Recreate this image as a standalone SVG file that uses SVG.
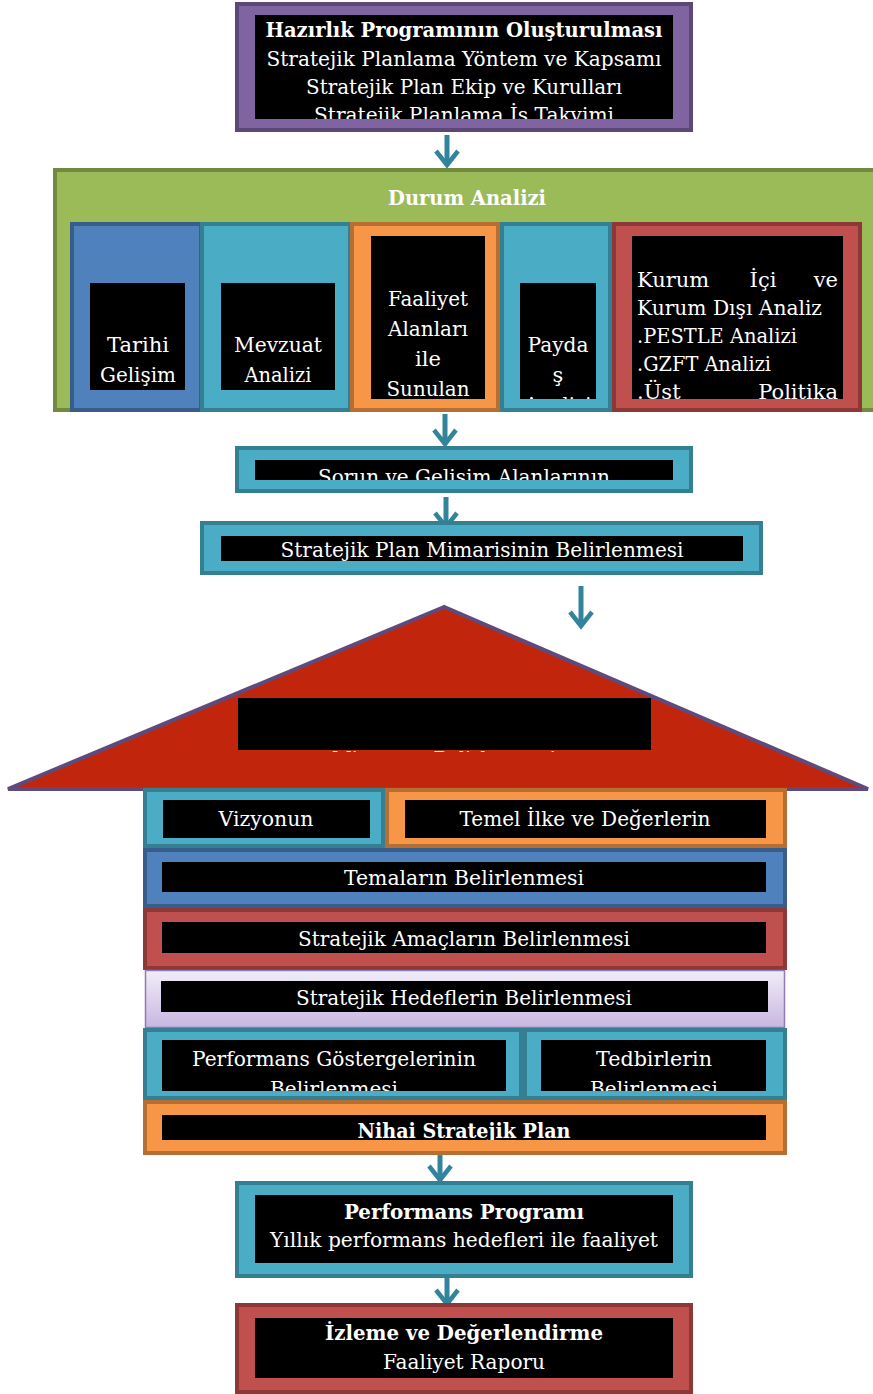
<svg xmlns="http://www.w3.org/2000/svg" width="873" height="1394" viewBox="0 0 873 1394">
<style>
.t{font-family:"DejaVu Serif","Liberation Serif",serif;font-size:21px;fill:#fff;text-anchor:middle}
.b{font-weight:bold}
.l{text-anchor:start}
.e{text-anchor:end}
.blk{fill:#000}
.purple{fill:#8064a2;stroke:#5d4776;stroke-width:4}
.green{fill:#9bbb59;stroke:#728a3f;stroke-width:4}
.blue{fill:#4f81bd;stroke:#385d8a;stroke-width:4}
.teal{fill:#4bacc6;stroke:#357f93;stroke-width:4}
.orange{fill:#f79646;stroke:#b76e33;stroke-width:4}
.red{fill:#c0504d;stroke:#8c3836;stroke-width:4}
.arr{fill:none;stroke:#31849b;stroke-width:5}
.head{fill:none;stroke:#31849b;stroke-width:4.5;stroke-linejoin:miter}
</style>
<defs>
<linearGradient id="lav" x1="0" y1="0" x2="0" y2="1">
<stop offset="0" stop-color="#f1edf8"/>
<stop offset="1" stop-color="#c8b7e1"/>
</linearGradient>
<clipPath id="cTop"><rect x="255" y="15" width="418" height="104"/></clipPath>
<clipPath id="cFaal"><rect x="371" y="236" width="114" height="163"/></clipPath>
<clipPath id="cPay"><rect x="520" y="283" width="76" height="116"/></clipPath>
<clipPath id="cKur"><rect x="632" y="236" width="211" height="163"/></clipPath>
<clipPath id="cSor"><rect x="255" y="460" width="418" height="20"/></clipPath>
<clipPath id="cRoof"><rect x="238" y="748" width="413" height="4"/></clipPath>
<clipPath id="cPerf"><rect x="162" y="1040" width="344" height="51"/></clipPath>
<clipPath id="cTed"><rect x="541" y="1040" width="225" height="51"/></clipPath>
<clipPath id="cNih"><rect x="162" y="1115" width="604" height="25"/></clipPath>
<clipPath id="cPP"><rect x="255" y="1195" width="418" height="68"/></clipPath>
</defs>

<g id="connectors">
<path class="arr" d="M447 135 V163"/><path class="head" d="M436 151 L447 165 L458 151"/>
<path class="arr" d="M445 414 V442"/><path class="head" d="M434 430 L445 444 L456 430"/>
<path class="arr" d="M446 497 V525"/><path class="head" d="M435 513 L446 527 L457 513"/>
<path class="arr" d="M581 586 V624"/><path class="head" d="M570 612 L581 626 L592 612"/>
<path class="arr" d="M440 1154 V1178"/><path class="head" d="M429 1166 L440 1180 L451 1166"/>
<path class="arr" d="M447 1277 V1302"/><path class="head" d="M436 1290 L447 1304 L458 1290"/>
</g>

<g id="hazirlik">
<rect class="purple" x="237" y="4" width="454" height="126"/>
<rect class="blk" x="255" y="15" width="418" height="104"/>
<g clip-path="url(#cTop)">
<text class="t b" x="464" y="37" textLength="397" lengthAdjust="spacingAndGlyphs">Hazırlık Programının Oluşturulması</text>
<text class="t" x="464" y="66" textLength="395" lengthAdjust="spacingAndGlyphs">Stratejik Planlama Yöntem ve Kapsamı</text>
<text class="t" x="464" y="94" textLength="316" lengthAdjust="spacingAndGlyphs">Stratejik Plan Ekip ve Kurulları</text>
<text class="t" x="464" y="122" textLength="300" lengthAdjust="spacingAndGlyphs">Stratejik Planlama İş Takvimi</text>
</g>
</g>

<g id="durum-analizi">
<rect class="green" x="55" y="170" width="822" height="240"/>
<text class="t b" x="467" y="205" textLength="158" lengthAdjust="spacingAndGlyphs">Durum Analizi</text>
</g>

<g id="tarihi">
<rect class="blue" x="72" y="224" width="129" height="186"/>
<rect class="blk" x="90" y="283" width="95" height="107"/>
<text class="t" x="138" y="352" textLength="62" lengthAdjust="spacingAndGlyphs">Tarihi</text>
<text class="t" x="138" y="382" textLength="76" lengthAdjust="spacingAndGlyphs">Gelişim</text>
</g>

<g id="mevzuat">
<rect class="teal" x="202" y="224" width="148" height="186"/>
<rect class="blk" x="221" y="283" width="114" height="107"/>
<text class="t" x="278" y="352" textLength="88" lengthAdjust="spacingAndGlyphs">Mevzuat</text>
<text class="t" x="278" y="382" textLength="67" lengthAdjust="spacingAndGlyphs">Analizi</text>
</g>

<g id="faaliyet">
<rect class="orange" x="352" y="224" width="146" height="186"/>
<rect class="blk" x="371" y="236" width="114" height="163"/>
<g clip-path="url(#cFaal)">
<text class="t" x="428" y="306" textLength="80" lengthAdjust="spacingAndGlyphs">Faaliyet</text>
<text class="t" x="428" y="336" textLength="80" lengthAdjust="spacingAndGlyphs">Alanları</text>
<text class="t" x="428" y="366">ile</text>
<text class="t" x="428" y="396" textLength="83" lengthAdjust="spacingAndGlyphs">Sunulan</text>
</g>
</g>

<g id="paydas">
<rect class="teal" x="502" y="224" width="108" height="186"/>
<rect class="blk" x="520" y="283" width="76" height="116"/>
<g clip-path="url(#cPay)">
<text class="t" x="558" y="352" textLength="61" lengthAdjust="spacingAndGlyphs">Payda</text>
<text class="t" x="558" y="382">ş</text>
<text class="t" x="558" y="412" textLength="67" lengthAdjust="spacingAndGlyphs">Analizi</text>
</g>
</g>

<g id="kurum">
<rect class="red" x="614" y="224" width="246" height="186"/>
<rect class="blk" x="632" y="236" width="211" height="163"/>
<g clip-path="url(#cKur)">
<text class="t l" x="637" y="287">Kurum</text>
<text class="t" x="763" y="287">İçi</text>
<text class="t e" x="838" y="287">ve</text>
<text class="t l" x="637" y="315" textLength="185" lengthAdjust="spacingAndGlyphs">Kurum Dışı Analiz</text>
<text class="t l" x="637" y="343" textLength="160" lengthAdjust="spacingAndGlyphs">.PESTLE Analizi</text>
<text class="t l" x="637" y="371" textLength="134" lengthAdjust="spacingAndGlyphs">.GZFT Analizi</text>
<text class="t l" x="637" y="399">.Üst</text>
<text class="t e" x="838" y="399">Politika</text>
</g>
</g>

<g id="sorun">
<rect class="teal" x="237" y="448" width="454" height="43"/>
<rect class="blk" x="255" y="460" width="418" height="20"/>
<g clip-path="url(#cSor)">
<text class="t" x="464" y="484" textLength="292" lengthAdjust="spacingAndGlyphs">Sorun ve Gelişim Alanlarının</text>
</g>
</g>

<g id="mimari">
<rect class="teal" x="202" y="523" width="559" height="50"/>
<rect class="blk" x="221" y="536" width="522" height="25"/>
<text class="t" x="482" y="557" textLength="403" lengthAdjust="spacingAndGlyphs">Stratejik Plan Mimarisinin Belirlenmesi</text>
</g>

<g id="misyon">
<polygon points="444,607 8,789 868,789" fill="#c1260d" stroke="#604a7b" stroke-width="4"/>
<rect class="blk" x="238" y="698" width="413" height="52"/>
<g clip-path="url(#cRoof)">
<text class="t" x="444" y="766" textLength="224" lengthAdjust="spacingAndGlyphs">Misyonun Belirlenmesi</text>
</g>
</g>

<g id="vizyon">
<rect class="teal" x="145" y="790" width="238" height="56"/>
<rect class="blk" x="163" y="800" width="207" height="38"/>
<text class="t" x="266" y="826" textLength="95" lengthAdjust="spacingAndGlyphs">Vizyonun</text>
</g>

<g id="ilkeler">
<rect class="orange" x="387" y="790" width="398" height="56"/>
<rect class="blk" x="405" y="800" width="361" height="38"/>
<text class="t" x="585" y="826" textLength="251" lengthAdjust="spacingAndGlyphs">Temel İlke ve Değerlerin</text>
</g>

<g id="temalar">
<rect class="blue" x="145" y="850" width="640" height="56"/>
<rect class="blk" x="162" y="862" width="604" height="30"/>
<text class="t" x="464" y="885" textLength="240" lengthAdjust="spacingAndGlyphs">Temaların Belirlenmesi</text>
</g>

<g id="amaclar">
<rect class="red" x="145" y="910" width="640" height="58"/>
<rect class="blk" x="162" y="922" width="604" height="31"/>
<text class="t" x="464" y="946" textLength="332" lengthAdjust="spacingAndGlyphs">Stratejik Amaçların Belirlenmesi</text>
</g>

<g id="hedefler">
<rect x="145.5" y="970.5" width="639" height="57" fill="url(#lav)" stroke="#8f7ab3" stroke-width="1.5"/>
<rect class="blk" x="161" y="981" width="607" height="31"/>
<text class="t" x="464" y="1005" textLength="336" lengthAdjust="spacingAndGlyphs">Stratejik Hedeflerin Belirlenmesi</text>
</g>

<g id="gostergeler">
<rect class="teal" x="145" y="1030" width="376" height="68"/>
<rect class="blk" x="162" y="1040" width="344" height="51"/>
<g clip-path="url(#cPerf)">
<text class="t" x="334" y="1066" textLength="284" lengthAdjust="spacingAndGlyphs">Performans Göstergelerinin</text>
<text class="t" x="334" y="1096" textLength="128" lengthAdjust="spacingAndGlyphs">Belirlenmesi</text>
</g>
</g>

<g id="tedbirler">
<rect class="teal" x="525" y="1030" width="260" height="68"/>
<rect class="blk" x="541" y="1040" width="225" height="51"/>
<g clip-path="url(#cTed)">
<text class="t" x="654" y="1066" textLength="116" lengthAdjust="spacingAndGlyphs">Tedbirlerin</text>
<text class="t" x="654" y="1096" textLength="128" lengthAdjust="spacingAndGlyphs">Belirlenmesi</text>
</g>
</g>

<g id="nihai">
<rect class="orange" x="145" y="1102" width="640" height="51"/>
<rect class="blk" x="162" y="1115" width="604" height="25"/>
<g clip-path="url(#cNih)">
<text class="t b" x="464" y="1138" textLength="213" lengthAdjust="spacingAndGlyphs">Nihai Stratejik Plan</text>
</g>
</g>

<g id="performans-programi">
<rect class="teal" x="237" y="1183" width="454" height="93"/>
<rect class="blk" x="255" y="1195" width="418" height="68"/>
<g clip-path="url(#cPP)">
<text class="t b" x="464" y="1219" textLength="240" lengthAdjust="spacingAndGlyphs">Performans Programı</text>
<text class="t" x="464" y="1247" textLength="388" lengthAdjust="spacingAndGlyphs">Yıllık performans hedefleri ile faaliyet</text>
</g>
</g>

<g id="izleme">
<rect class="red" x="237" y="1305" width="454" height="87"/>
<rect class="blk" x="255" y="1318" width="418" height="60"/>
<text class="t b" x="464" y="1340" textLength="278" lengthAdjust="spacingAndGlyphs">İzleme ve Değerlendirme</text>
<text class="t" x="464" y="1369" textLength="162" lengthAdjust="spacingAndGlyphs">Faaliyet Raporu</text>
</g>
</svg>
